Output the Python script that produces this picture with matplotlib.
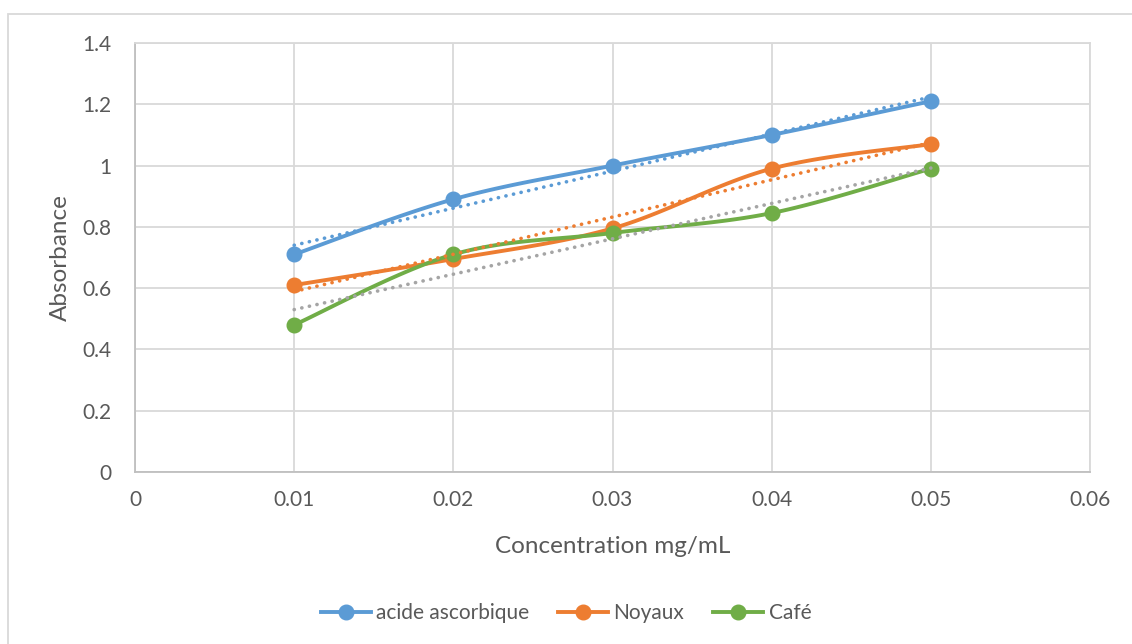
import numpy as np
import matplotlib
matplotlib.use('Agg')
from matplotlib import pyplot as plt
from matplotlib.patches import Rectangle
from matplotlib.lines import Line2D

plt.rcParams['font.family'] = ['Lato', 'DejaVu Sans']

concentration = [0.01, 0.02, 0.03, 0.04, 0.05]
acide_ascorbique = [0.71, 0.89, 1.0, 1.10, 1.21]
noyaux = [0.61, 0.695, 0.795, 0.99, 1.07]
cafe = [0.48, 0.71, 0.78, 0.845, 0.99]

series_names = ['acide ascorbique', 'Noyaux', 'Café']
series_colors = ['#5B9BD5', '#ED7D31', '#70AD47']
trend_colors = ['#5B9BD5', '#ED7D31', '#A5A5A5']

x_ticks = [0, 0.01, 0.02, 0.03, 0.04, 0.05, 0.06]
x_tick_labels = ['0', '0.01', '0.02', '0.03', '0.04', '0.05', '0.06']
y_ticks = [0, 0.2, 0.4, 0.6, 0.8, 1.0, 1.2, 1.4]
y_tick_labels = ['0', '0.2', '0.4', '0.6', '0.8', '1', '1.2', '1.4']


def smooth(x, y, n=30):
    # Catmull-Rom style bezier, like Excel's smoothed lines
    x = np.asarray(x, float)
    y = np.asarray(y, float)
    px = np.concatenate([[x[0]], x, [x[-1]]])
    py = np.concatenate([[y[0]], y, [y[-1]]])
    xs, ys = [], []
    t = np.linspace(0, 1, n)
    for i in range(1, len(x)):
        p0 = np.array([px[i], py[i]])
        p3 = np.array([px[i + 1], py[i + 1]])
        c1 = p0 + (np.array([px[i + 1], py[i + 1]]) - np.array([px[i - 1], py[i - 1]])) / 6
        c2 = p3 - (np.array([px[i + 2], py[i + 2]]) - np.array([px[i], py[i]])) / 6
        bx = (1 - t) ** 3 * p0[0] + 3 * (1 - t) ** 2 * t * c1[0] + 3 * (1 - t) * t ** 2 * c2[0] + t ** 3 * p3[0]
        by = (1 - t) ** 3 * p0[1] + 3 * (1 - t) ** 2 * t * c1[1] + 3 * (1 - t) * t ** 2 * c2[1] + t ** 3 * p3[1]
        xs.extend(bx)
        ys.extend(by)
    return xs, ys


fig = plt.figure(figsize=(11.32, 6.44), dpi=100)
# chart border: only top and left edges are inside the image
fig.patches.append(Rectangle((7.5 / 1132, -10 / 644), 1140 / 1132, 640 / 644,
                             transform=fig.transFigure, fill=False,
                             edgecolor='#D9D9D9', linewidth=1.3))

ax = fig.add_axes([135 / 1132, 172 / 644, 955 / 1132, 429 / 644])

all_series = [acide_ascorbique, noyaux, cafe]
for vals, col in zip(all_series, series_colors):
    sx, sy = smooth(concentration, vals)
    ax.plot(sx, sy, color=col, linewidth=2.8, zorder=3, solid_capstyle='round')
    ax.plot(concentration, vals, 'o', color=col, markersize=10.5, zorder=4)

for vals, col in zip(all_series, trend_colors):
    a, b = np.polyfit(concentration, vals, 1)
    tx = np.array([concentration[0], concentration[-1]])
    ax.plot(tx, a * tx + b, color=col, linewidth=2.6, linestyle=(0, (0.05, 2.1)),
            dash_capstyle='round', zorder=5)

ax.set_xlim(0, 0.06)
ax.set_ylim(0, 1.4)
ax.set_xticks(x_ticks)
ax.set_xticklabels(x_tick_labels)
ax.set_yticks(y_ticks)
ax.set_yticklabels(y_tick_labels)
ax.tick_params(length=0, labelsize=15, labelcolor='#595959')
ax.tick_params(axis='x', pad=13)
ax.tick_params(axis='y', pad=17)
ax.grid(True, color='#D9D9D9', linewidth=1.3)
ax.set_axisbelow(True)
for sp in ax.spines.values():
    sp.set_color('#D9D9D9')
    sp.set_linewidth(1.3)
ax.spines['bottom'].set_color('#BFBFBF')
ax.spines['left'].set_color('#BFBFBF')

ax.set_xlabel('Concentration mg/mL', fontsize=17.5, color='#595959', labelpad=19)
ax.set_ylabel('Absorbance', fontsize=17.5, color='#595959', labelpad=8)

handles = [Line2D([], [], color=c, linewidth=2.8, marker='o', markersize=10.5) for c in series_colors]
fig.legend(handles, series_names, loc='center', bbox_to_anchor=(0.5, 1 - 613 / 644),
           ncol=3, frameon=False, fontsize=15, labelcolor='#595959',
           handlelength=2.4, columnspacing=1.4, handletextpad=0.25)

fig.savefig('out.png', dpi=100)
